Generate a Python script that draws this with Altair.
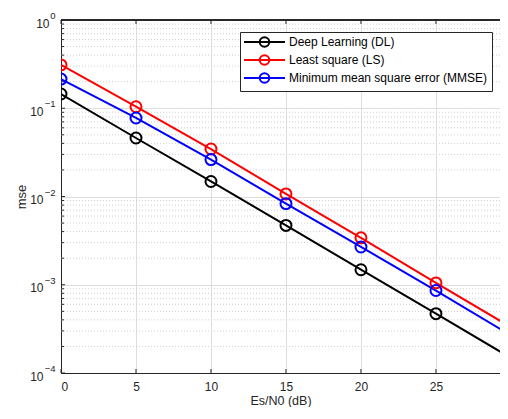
import altair as alt
import pandas as pd

# ---- data ----
snr = [0, 5, 10, 15, 20, 25, 30]
mse_dl = [0.145, 0.046, 0.0148, 0.0047, 0.00148, 0.00047, 0.000148]
mse_ls = [0.31, 0.104, 0.0345, 0.0107, 0.0034, 0.00105, 0.00033]
mse_mmse = [0.214, 0.0776, 0.0262, 0.0083, 0.00268, 0.00086, 0.000267]
series_names = ["Deep Learning (DL)", "Least square (LS)", "Minimum mean square error (MMSE)"]
series_colors = ["#000000", "#ff0000", "#0000ff"]

x_ticks = [0, 5, 10, 15, 20, 25]
y_major = [1e-4, 1e-3, 1e-2, 1e-1, 1]
y_exponents = ["\u22124", "\u22123", "\u22122", "\u22121", "0"]
y_minor = [m * d for d in [1e-4, 1e-3, 1e-2, 1e-1] for m in range(2, 10)]

rows = []
for name, vals in zip(series_names, [mse_dl, mse_ls, mse_mmse]):
    for s, v in zip(snr, vals):
        rows.append({"snr": s, "mse": v, "method": name})
df = pd.DataFrame(rows)
df_xt = pd.DataFrame({"snr": x_ticks})
df_ymaj = pd.DataFrame({"mse": y_major, "exp": y_exponents})
df_ymin = pd.DataFrame({"mse": y_minor})

W, H = 439, 353
FONT = "Liberation Sans"
AX = "#262626"

xscale = alt.Scale(domain=[0, 29.27], nice=False, zero=False)
yscale = alt.Scale(type="log", domain=[1e-4, 1], nice=False)

xaxis = alt.Axis(values=x_ticks, title="Es/N0 (dB)", grid=True, gridColor="#dedede",
                 ticks=False, labelPadding=8, titleY=31, titleBaseline="alphabetic",
                 labelFontSize=12, titleFontSize=12.5, labelColor=AX, titleColor=AX,
                 titleFontWeight="normal", domainColor=AX, labelFont=FONT, titleFont=FONT)
yaxis = alt.Axis(values=y_major, title="mse", grid=True, gridColor="#dedede",
                 ticks=False, labelExpr="'10'",
                 labelPadding={"condition": {"test": "datum.value >= 0.5", "value": 12}, "value": 18},
                 labelBaseline="middle", labelOffset=3, titlePadding=1,
                 labelFontSize=12, titleFontSize=13, labelColor=AX, titleColor=AX,
                 titleFontWeight="normal", domainColor=AX, labelFont=FONT, titleFont=FONT)

color_scale = alt.Scale(domain=series_names, range=series_colors)
legend_path = "M-4.1,0H4.1M0.95,0A0.95,0.95,0,1,1,-0.95,0A0.95,0.95,0,1,1,0.95,0"
leg = alt.Legend(orient="none", legendX=179, legendY=12, title=None, direction="vertical",
                 fillColor="white", strokeColor=AX, padding=4, symbolOffset=14.5,
                 labelOffset=18.5, symbolSize=100, symbolType=legend_path,
                 symbolStrokeWidth=2, symbolFillColor="transparent", labelFontSize=12,
                 labelFont=FONT, labelColor="#000000", rowPadding=0, labelLimit=400,
                 cornerRadius=0)

minor_grid = alt.Chart(df_ymin).mark_rule(color="#cfcfcf", strokeDash=[1, 2], strokeWidth=1).encode(
    y=alt.Y("mse:Q", scale=yscale, axis=yaxis))
top_border = alt.Chart(df_xt).mark_rule(color=AX, strokeWidth=1).encode(y=alt.value(0))

tick_bottom = alt.Chart(df_xt).mark_rule(color=AX, strokeWidth=1).encode(
    x=alt.X("snr:Q", scale=xscale, axis=xaxis), y=alt.value(H), y2=alt.value(H - 4))
tick_top = alt.Chart(df_xt).mark_rule(color=AX, strokeWidth=1).encode(
    x=alt.X("snr:Q", scale=xscale, axis=xaxis), y=alt.value(0), y2=alt.value(4))
tick_ymaj = alt.Chart(df_ymaj).mark_rule(color=AX, strokeWidth=1).encode(
    y=alt.Y("mse:Q", scale=yscale, axis=yaxis), x=alt.value(0), x2=alt.value(4))
tick_ymin = alt.Chart(df_ymin).mark_rule(color=AX, strokeWidth=1).encode(
    y=alt.Y("mse:Q", scale=yscale, axis=yaxis), x=alt.value(0), x2=alt.value(3))
exp_text = alt.Chart(df_ymaj).mark_text(align="right", baseline="middle", fontSize=9.5,
                                        font=FONT, color=AX, dy=-4).encode(
    y=alt.Y("mse:Q", scale=yscale, axis=yaxis), x=alt.value(-5.5), text="exp:N")

base = alt.Chart(df).encode(
    x=alt.X("snr:Q", scale=xscale, axis=xaxis),
    y=alt.Y("mse:Q", scale=yscale, axis=yaxis),
    color=alt.Color("method:N", scale=color_scale, legend=leg, sort=series_names),
)
lines = base.mark_line(strokeWidth=2, clip=True)
points = base.mark_point(shape="circle", size=120, strokeWidth=2, filled=False, opacity=1, clip=True)

chart = alt.layer(minor_grid, top_border, tick_bottom, tick_top, tick_ymaj, tick_ymin, exp_text,
                  lines, points).properties(
    width=W, height=H, autosize=alt.AutoSizeParams(type="none"),
    padding={"left": 53, "top": 12, "right": 0, "bottom": 34}
).configure_view(stroke=None).configure(background="white")

chart.save("out.html", embed_options={"renderer": "svg", "actions": False})
